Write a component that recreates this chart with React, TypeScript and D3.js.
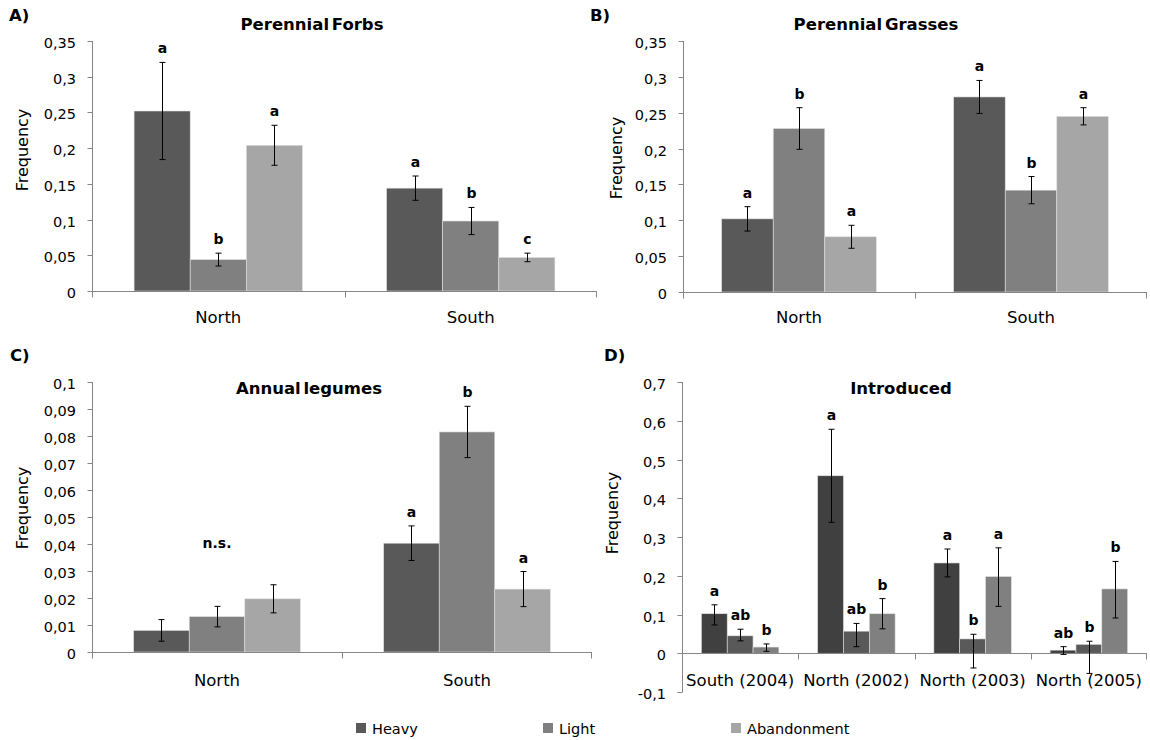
import React, { useEffect, useRef } from "react";
import * as d3 from "d3";

// treatments (legend order)
const series = ["Heavy", "Light", "Abandonment"];
const regions = ["North", "South"];
const introCats = ["South (2004)", "North (2002)", "North (2003)", "North (2005)"];

// A) Perennial forbs  [Heavy, Light, Abandonment] per region
const forbsMean = [
  [0.252, 0.044, 0.204],
  [0.144, 0.098, 0.047],
];
const forbsErr = [
  [0.068, 0.009, 0.028],
  [0.017, 0.019, 0.006],
];
const forbsLetters = [
  ["a", "b", "a"],
  ["a", "b", "c"],
];

// B) Perennial grasses
const grassMean = [
  [0.102, 0.228, 0.077],
  [0.272, 0.142, 0.245],
];
const grassErr = [
  [0.017, 0.029, 0.016],
  [0.023, 0.019, 0.012],
];
const grassLetters = [
  ["a", "b", "a"],
  ["a", "b", "a"],
];

// C) Annual legumes
const legumeMean = [
  [0.008, 0.0131, 0.0197],
  [0.0403, 0.0815, 0.0233],
];
const legumeErr = [
  [0.004, 0.0038, 0.0052],
  [0.0064, 0.0095, 0.0065],
];
const legumeLetters = [
  ["", "", ""],
  ["a", "b", "a"],
];
const legumeNote = "n.s.";
const legumeNoteLevel = 0.0385;

// D) Introduced (error bars are not symmetric here)
const introMean = [
  [0.102, 0.045, 0.016],
  [0.458, 0.057, 0.102],
  [0.233, 0.037, 0.198],
  [0.008, 0.023, 0.166],
];
const introErrUp = [
  [0.023, 0.017, 0.008],
  [0.12, 0.02, 0.039],
  [0.036, 0.012, 0.074],
  [0.009, 0.008, 0.071],
];
const introErrDown = [
  [0.029, 0.013, 0.011],
  [0.12, 0.04, 0.039],
  [0.036, 0.075, 0.077],
  [0.011, 0.075, 0.075],
];
const introLetters = [
  ["a", "ab", "b"],
  ["a", "ab", "b"],
  ["a", "b", "a"],
  ["ab", "b", "b"],
];

const greys = ["#595959", "#808080", "#a6a6a6"];
const darkGreys = ["#404040", "#595959", "#808080"];

const FONT = "'DejaVu Sans', sans-serif";
const fmt = d3.formatLocale({
  decimal: ",",
  thousands: ".",
  grouping: [3],
  currency: ["", ""],
  minus: "-",
}).format("~g");

type PanelCfg = {
  tag: string;
  tagX: number;
  tagY: number;
  title: string;
  titleX: number;
  titleY: number;
  x0: number;
  x1: number;
  yTop: number;
  yBottom: number;
  domain: [number, number];
  step: number;
  cats: string[];
  mean: number[][];
  errUp: number[][];
  errDown: number[][];
  letters: string[][];
  colors: string[];
  labelX: number;
  labelY: number;
  catY: number;
  note?: { text: string; cat: number; level: number };
};

function drawPanel(root: d3.Selection<SVGSVGElement, unknown, null, undefined>, c: PanelCfg) {
  const g = root.append("g");

  const y = d3.scaleLinear().domain(c.domain).range([c.yBottom, c.yTop]);
  const x = d3.scaleBand<string>().domain(c.cats).range([c.x0, c.x1]).padding(0);
  const xs = d3
    .scaleBand<string>()
    .domain(series)
    .range([0, x.bandwidth()])
    .paddingInner(0)
    .paddingOuter(0.75);

  // y axis
  const ticks = d3.range(c.domain[0], c.domain[1] + c.step / 2, c.step).map((v) => +v.toFixed(4));
  const ax = c.x0 + 0.5;
  g.append("line")
    .attr("x1", ax)
    .attr("x2", ax)
    .attr("y1", y(c.domain[1]))
    .attr("y2", y(c.domain[0]))
    .attr("stroke", "#868686");
  g.selectAll(".yt")
    .data(ticks)
    .join("line")
    .attr("x1", ax - 5)
    .attr("x2", ax)
    .attr("y1", (d) => Math.round(y(d)) + 0.5)
    .attr("y2", (d) => Math.round(y(d)) + 0.5)
    .attr("stroke", "#868686");
  g.selectAll(".yl")
    .data(ticks)
    .join("text")
    .attr("x", c.x0 - 16)
    .attr("y", (d) => y(d) + 7)
    .attr("text-anchor", "end")
    .style("font-size", "14.5px")
    .style("font-family", FONT)
    .attr("fill", "#000")
    .text((d) => fmt(d));

  // bars
  c.cats.forEach((cat, i) => {
    series.forEach((s, j) => {
      const v = c.mean[i][j];
      const bx = (x(cat) as number) + (xs(s) as number);
      const bw = xs.bandwidth();
      g.append("rect")
        .attr("x", bx)
        .attr("y", y(Math.max(v, 0)))
        .attr("width", bw)
        .attr("height", Math.abs(y(v) - y(0)))
        .attr("fill", c.colors[j])
        .attr("stroke", "#e0e0e0")
        .attr("stroke-width", 0.6);
    });
  });

  // x axis at zero
  const y0 = Math.round(y(0)) + 0.5;
  g.append("line")
    .attr("x1", c.x0)
    .attr("x2", c.x1)
    .attr("y1", y0)
    .attr("y2", y0)
    .attr("stroke", "#868686");
  const bounds = c.cats.map((cat) => Math.round(x(cat) as number) + 0.5).concat([c.x1 - 0.5]);
  g.selectAll(".xt")
    .data(bounds)
    .join("line")
    .attr("x1", (d) => d)
    .attr("x2", (d) => d)
    .attr("y1", y0)
    .attr("y2", y0 + 6)
    .attr("stroke", "#868686");
  g.selectAll(".xl")
    .data(c.cats)
    .join("text")
    .attr("x", (d) => (x(d) as number) + x.bandwidth() / 2)
    .attr("y", c.catY)
    .attr("text-anchor", "middle")
    .style("font-size", "16.5px")
    .style("font-family", FONT)
    .text((d) => d);

  // error bars and letters
  c.cats.forEach((cat, i) => {
    series.forEach((s, j) => {
      const v = c.mean[i][j];
      const cx = Math.round((x(cat) as number) + (xs(s) as number) + xs.bandwidth() / 2) + 0.5;
      const top = y(v + c.errUp[i][j]);
      const bot = y(v - c.errDown[i][j]);
      g.append("line").attr("x1", cx).attr("x2", cx).attr("y1", top).attr("y2", bot).attr("stroke", "#000");
      [top, bot].forEach((yy) =>
        g.append("line").attr("x1", cx - 3).attr("x2", cx + 3).attr("y1", yy).attr("y2", yy).attr("stroke", "#000")
      );
      const lt = c.letters[i][j];
      if (lt) {
        g.append("text")
          .attr("x", cx)
          .attr("y", top - 9)
          .attr("text-anchor", "middle")
          .style("font-size", "14px")
          .style("font-weight", "bold")
          .style("font-family", FONT)
          .text(lt);
      }
    });
  });

  if (c.note) {
    const cat = c.cats[c.note.cat];
    g.append("text")
      .attr("x", (x(cat) as number) + x.bandwidth() / 2)
      .attr("y", y(c.note.level))
      .attr("text-anchor", "middle")
      .style("font-size", "14px")
      .style("font-weight", "bold")
      .style("font-family", FONT)
      .text(c.note.text);
  }

  // titles
  g.append("text")
    .attr("x", c.titleX)
    .attr("y", c.titleY)
    .attr("text-anchor", "middle")
    .style("font-size", "16.5px")
    .style("font-weight", "bold")
    .style("word-spacing", "-3px")
    .style("font-family", FONT)
    .text(c.title);
  g.append("text")
    .attr("x", c.tagX)
    .attr("y", c.tagY)
    .style("font-size", "16.5px")
    .style("font-weight", "bold")
    .style("font-family", FONT)
    .text(c.tag);
  g.append("text")
    .attr("transform", `translate(${c.labelX},${c.labelY}) rotate(-90)`)
    .attr("text-anchor", "middle")
    .style("font-size", "16px")
    .style("font-family", FONT)
    .text("Frequency");
}

export default function App() {
  const ref = useRef<SVGSVGElement>(null);

  useEffect(() => {
    const svg = d3.select(ref.current as SVGSVGElement);
    svg.selectAll("*").remove();

    svg.append("rect").attr("width", 1150).attr("height", 740).attr("fill", "#fff");

    drawPanel(svg, {
      tag: "A)", tagX: 9, tagY: 21, title: "Perennial Forbs", titleX: 312, titleY: 30,
      x0: 92, x1: 597, yTop: 41, yBottom: 291, domain: [0, 0.35], step: 0.05,
      cats: regions, mean: forbsMean, errUp: forbsErr, errDown: forbsErr, letters: forbsLetters, colors: greys,
      labelX: 28, labelY: 150, catY: 323,
    });
    drawPanel(svg, {
      tag: "B)", tagX: 590, tagY: 21, title: "Perennial Grasses", titleX: 876, titleY: 30,
      x0: 683, x1: 1147, yTop: 41, yBottom: 292, domain: [0, 0.35], step: 0.05,
      cats: regions, mean: grassMean, errUp: grassErr, errDown: grassErr, letters: grassLetters, colors: greys,
      labelX: 622, labelY: 158, catY: 323,
    });
    drawPanel(svg, {
      tag: "C)", tagX: 10, tagY: 361, title: "Annual legumes", titleX: 309, titleY: 394,
      x0: 92, x1: 592, yTop: 382, yBottom: 652, domain: [0, 0.1], step: 0.01,
      cats: regions, mean: legumeMean, errUp: legumeErr, errDown: legumeErr, letters: legumeLetters, colors: greys,
      labelX: 28, labelY: 508, catY: 686,
      note: { text: legumeNote, cat: 0, level: legumeNoteLevel },
    });
    drawPanel(svg, {
      tag: "D)", tagX: 604, tagY: 361, title: "Introduced", titleX: 901, titleY: 394,
      x0: 682, x1: 1147, yTop: 382, yBottom: 692, domain: [-0.1, 0.7], step: 0.1,
      cats: introCats, mean: introMean, errUp: introErrUp, errDown: introErrDown, letters: introLetters,
      colors: darkGreys, labelX: 618, labelY: 513, catY: 686,
    });

    // legend
    const lx = [356, 543, 731];
    const lg = svg.append("g");
    series.forEach((s, i) => {
      lg.append("rect").attr("x", lx[i]).attr("y", 723).attr("width", 10).attr("height", 10).attr("fill", greys[i]);
      lg.append("text")
        .attr("x", lx[i] + 16)
        .attr("y", 734)
        .style("font-size", "14.5px")
        .style("font-family", FONT)
        .text(s);
    });
  }, []);

  return (
    <svg
      ref={ref}
      width={1150}
      height={740}
      style={{ position: "absolute", left: 0, top: 0, display: "block" }}
    ></svg>
  );
}
